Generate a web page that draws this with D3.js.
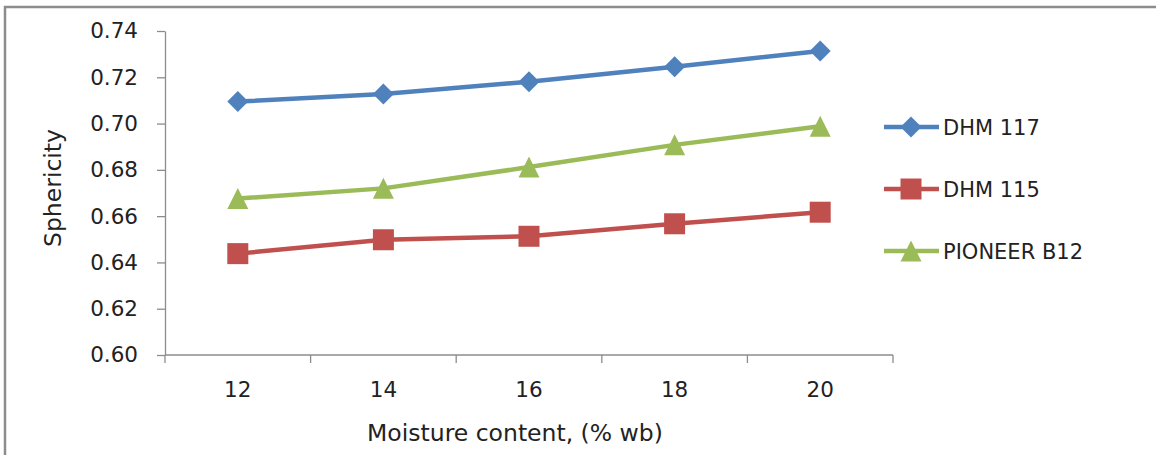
<!DOCTYPE html>
<html>
<head>
<meta charset="utf-8">
<script src="https://cdn.jsdelivr.net/npm/d3@7"></script>
<style>
  body { margin:0; background:#fff; }
  svg text { font-family: "DejaVu Sans", sans-serif; fill:#222; }
</style>
</head>
<body>
<svg id="chart" width="1156" height="455"></svg>
<script>
// data
const moisture=["12","14","16","18","20"]
const dhm117=[0.7095, 0.7128, 0.7181, 0.7246, 0.7314]
const dhm115=[0.6438, 0.6498, 0.6513, 0.6567, 0.6617]
const pioneer=[0.6676, 0.6720, 0.6812, 0.6908, 0.6988]
const yTicks=[0.60, 0.62, 0.64, 0.66, 0.68, 0.70, 0.72, 0.74]

const series=[
  {name:"DHM 117", vals:dhm117, color:"#4F81BD", shape:"diamond"},
  {name:"DHM 115", vals:dhm115, color:"#C0504D", shape:"square"},
  {name:"PIONEER B12", vals:pioneer, color:"#9BBB59", shape:"triangle"}
]

const svg=d3.select("#chart")
const axisCol="#8c8c8c"

// frame (picture is cropped: only top and left edges show)
svg.append("path")
  .attr("d","M5,455V7H1156")
  .attr("fill","none").attr("stroke",axisCol).attr("stroke-width",2.5)

const x=d3.scaleBand().domain(moisture).range([165,893]).padding(0)
const y=d3.scaleLinear().domain([0.60,0.74]).range([355,31])
const cx=d=>x(d)+x.bandwidth()/2

// y axis
const gy=svg.append("g").attr("transform","translate(165,0)")
  .call(d3.axisLeft(y).tickValues(yTicks).tickFormat(d3.format(".2f")).tickSize(8).tickSizeOuter(0).tickPadding(19))
gy.select(".domain").attr("stroke",axisCol).attr("stroke-width",1.3)
gy.selectAll(".tick line").attr("stroke",axisCol).attr("stroke-width",1.3)
gy.selectAll(".tick text").style("font-size","21.5px").attr("fill","#222")

// x axis: labels at centres, ticks at band edges
const gx=svg.append("g").attr("transform","translate(0,355)")
gx.append("line").attr("x1",x.range()[0]).attr("x2",x.range()[1])
  .attr("stroke",axisCol).attr("stroke-width",1.3)
const edges=moisture.map(d=>x(d)).concat([x.range()[1]])
gx.selectAll(".edge").data(edges).enter().append("line")
  .attr("x1",d=>d).attr("x2",d=>d).attr("y1",0).attr("y2",8)
  .attr("stroke",axisCol).attr("stroke-width",1.3)
gx.selectAll(".lbl").data(moisture).enter().append("text")
  .attr("x",d=>cx(d)).attr("y",42).attr("text-anchor","middle")
  .style("font-size","21.5px").text(d=>d)

// axis titles
svg.append("text").attr("transform","translate(61,188) rotate(-90)")
  .attr("text-anchor","middle").style("font-size","23.5px").text("Sphericity")
svg.append("text").attr("x",515).attr("y",441).attr("text-anchor","middle")
  .style("font-size","23.5px").text("Moisture content, (% wb)")

function marker(sel, shape, color){
  if (shape=="diamond") {
    sel.append("path").attr("d","M0,-10.5L10.5,0L0,10.5L-10.5,0Z").attr("fill",color)
  } else if (shape=="square") {
    sel.append("rect").attr("x",-10.5).attr("y",-10.5).attr("width",21).attr("height",21).attr("fill",color)
  } else {
    sel.append("path").attr("d","M0,-10.5L10.5,10.5L-10.5,10.5Z").attr("fill",color)
  }
}

const line=d3.line().x((d,i)=>cx(moisture[i])).y(d=>y(d))
series.forEach(s=>{
  svg.append("path").attr("d",line(s.vals)).attr("fill","none")
    .attr("stroke",s.color).attr("stroke-width",4.5)
  s.vals.forEach((v,i)=>{
    const g=svg.append("g").attr("transform",`translate(${cx(moisture[i])},${y(v)})`)
    marker(g,s.shape,s.color)
  })
})

// legend
const legY=[127,189,251]
series.forEach((s,i)=>{
  const g=svg.append("g").attr("transform",`translate(884,${legY[i]})`)
  g.append("line").attr("x1",0).attr("x2",55).attr("stroke",s.color).attr("stroke-width",4.5)
  const m=g.append("g").attr("transform","translate(27,0)")
  marker(m,s.shape,s.color)
  g.append("text").attr("x",59).attr("y",8).style("font-size","21px").text(s.name)
})
</script>
</body>
</html>
